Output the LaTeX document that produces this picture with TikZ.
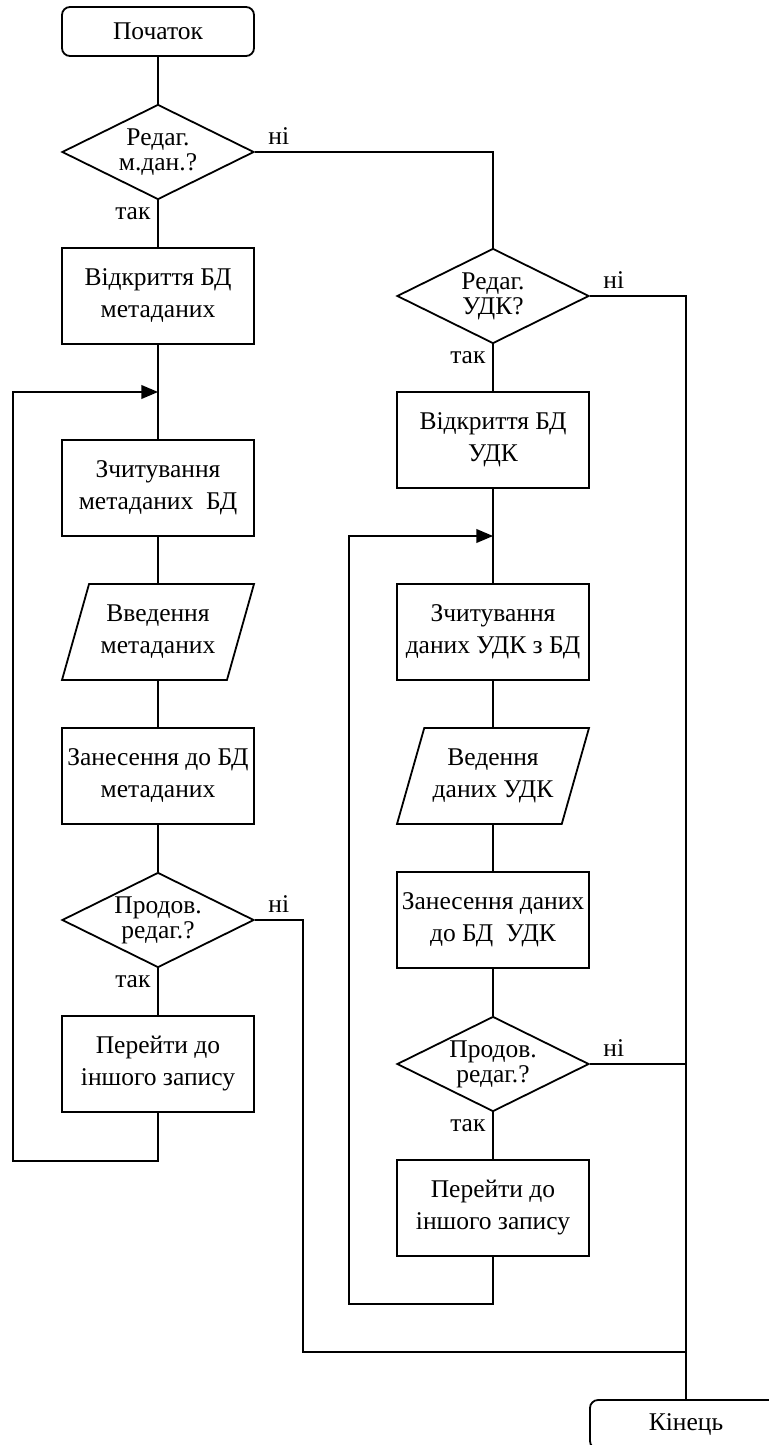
\documentclass[tikz,border=0pt]{standalone}
\usepackage{fontspec}
\setmainfont{Liberation Serif}
\usepackage{tikz}
\usetikzlibrary{shapes.geometric, arrows}

\begin{document}
\begin{tikzpicture}[node distance=72pt, line width=0.9pt, font=\rmfamily\fontsize{12.75pt}{16pt}\selectfont]
% Define styles
\tikzstyle{startstop} = [rectangle, rounded corners=4pt, minimum width=96pt, minimum height=24.5pt, align=center, draw=black]
\tikzstyle{process} = [rectangle, inner xsep=1pt, minimum width=96pt, minimum height=48pt, align=center, draw=black]
\tikzstyle{decision} = [diamond, aspect=2, inner sep=0pt, minimum width=96pt, minimum height=47.5pt, align=center, draw=black, font=\rmfamily\fontsize{12.75pt}{12.5pt}\selectfont]
\tikzstyle{io} = [trapezium, trapezium left angle=68, trapezium right angle=112, trapezium stretches body, minimum width=96pt, minimum height=48pt, align=center, draw=black]
\tikzstyle{line} = [line width=0.9pt]
\tikzstyle{arrow} = [line width=0.9pt,->,>=triangle 45]
\useasboundingbox (0,0) rectangle (384.5pt,-722.5pt);
% Place nodes
\node (start) [startstop] at (79pt,-15.75pt) {Початок};
\node (l0) [decision, below of=start, node distance=60.25pt] {Редаг.\\м.дан.?};
\node (l1) [process, below of=l0] {Відкриття БД\\метаданих};
\node (l2) [process, below of=l1, node distance=96pt] {Зчитування\\метаданих~ БД};
\node (l3) [io, below of=l2] {Введення\\метаданих};
\node (l4) [process, below of=l3] {Занесення до БД\\метаданих};
\node (l5) [decision, below of=l4] {Продов.\\редаг.?};
\node (l6) [process, below of=l5] {Перейти до\\іншого запису};
\node (r0) [decision, right of=l1, node distance=167.5pt] {Редаг.\\УДК?};
\node (r1) [process, below of=r0] {Відкриття БД\\УДК};
\node (r2) [process, below of=r1, node distance=96pt] {Зчитування\\даних УДК з БД};
\node (r3) [io, below of=r2] {Ведення\\даних УДК};
\node (r4) [process, below of=r3] {Занесення даних\\до БД~ УДК};
\node (r5) [decision, below of=r4] {Продов.\\редаг.?};
\node (r6) [process, below of=r5] {Перейти до\\іншого запису};
\node (stop) [startstop, below of=r6, node distance=108.25pt, xshift=96.5pt] {Кінець};
\coordinate [below of=l1, node distance=48pt] (lmid);
\coordinate [below of=r1, node distance=48pt] (rmid);
\coordinate [below of=r6, xshift=96.5pt] (jn);
% Draw arrows
\draw [line] (start) -- (l0);
\draw [line] (l0) -- node[anchor=north east, pos=0] {так} (l1);
\draw [line] (l0.east) -| node[anchor=south west, pos=0, xshift=3pt] {ні} (r0.north);
\draw [line] (l1) -- (l2);
\draw [line] (l2) -- (l3);
\draw [line] (l3) -- (l4);
\draw [line] (l4) -- (l5);
\draw [line] (l5) -- node[anchor=north east, pos=0] {так} (l6);
\draw [arrow] (l6.south) -- ++(0,-24pt) -- ++(-72.5pt,0) |- (lmid);
\draw [line] (l5.east) -- node[anchor=south west, pos=0, xshift=3pt] {ні} ++(24pt,0) |- (jn);
\draw [line] (r0) -- node[anchor=north east, pos=0] {так} (r1);
\draw [line] (r0.east) -| node[anchor=south west, pos=0, xshift=3pt] {ні} (stop.north);
\draw [line] (r1) -- (r2);
\draw [line] (r2) -- (r3);
\draw [line] (r3) -- (r4);
\draw [line] (r4) -- (r5);
\draw [line] (r5) -- node[anchor=north east, pos=0] {так} (r6);
\draw [line] (r5.east) -- node[anchor=south west, pos=0, xshift=3pt] {ні} (r5.east -| stop.north);
\draw [arrow] (r6.south) -- ++(0,-23.5pt) -- ++(-72pt,0) |- (rmid);
\end{tikzpicture}
\end{document}
